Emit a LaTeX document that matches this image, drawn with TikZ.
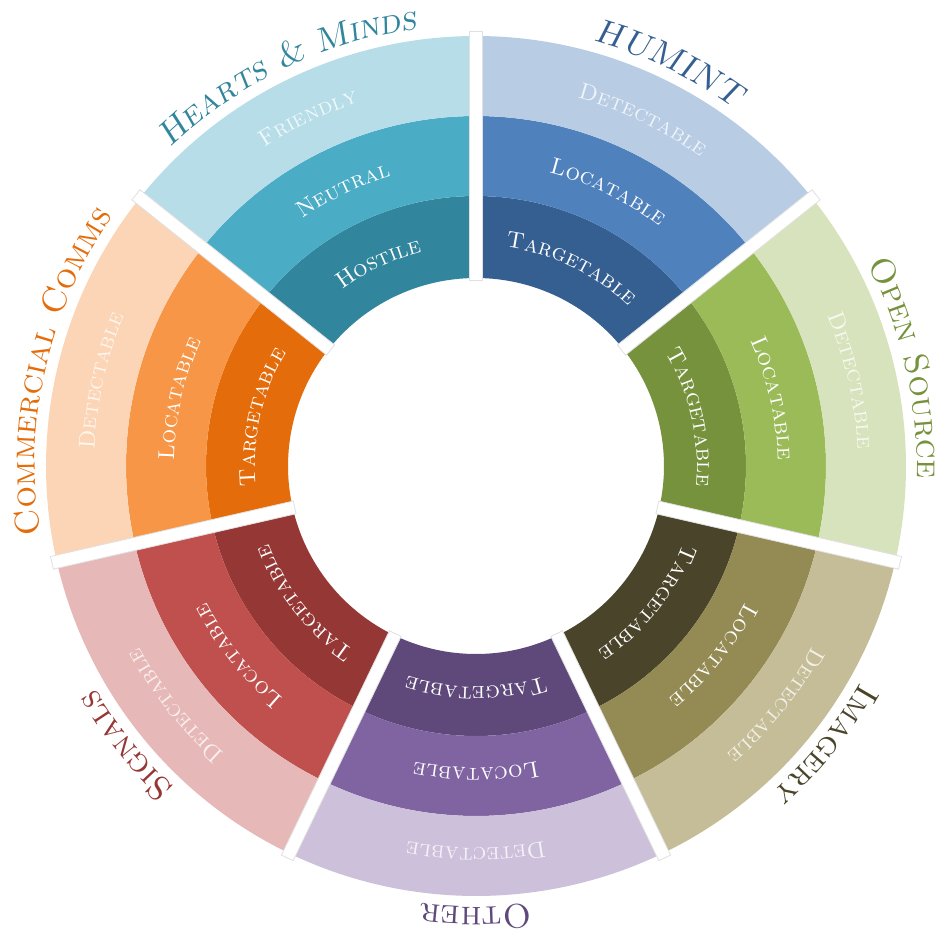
\documentclass[tikz,border=0pt]{standalone}
\usetikzlibrary{decorations.text}

% sector colours: dark (inner), mid, light (outer)
\definecolor{huD}{HTML}{365F91}
\definecolor{huM}{HTML}{4F81BD}
\definecolor{huL}{HTML}{B8CCE4}
\definecolor{osD}{HTML}{76923C}
\definecolor{osM}{HTML}{9BBB59}
\definecolor{osL}{HTML}{D7E3BC}
\definecolor{imD}{HTML}{4A452A}
\definecolor{imM}{HTML}{948A54}
\definecolor{imL}{HTML}{C4BD97}
\definecolor{otD}{HTML}{5F497A}
\definecolor{otM}{HTML}{8064A2}
\definecolor{otL}{HTML}{CCC0DA}
\definecolor{siD}{HTML}{953735}
\definecolor{siM}{HTML}{C0504D}
\definecolor{siL}{HTML}{E6B9B8}
\definecolor{ccD}{HTML}{E46C0A}
\definecolor{ccM}{HTML}{F79646}
\definecolor{ccL}{HTML}{FBD5B5}
\definecolor{hmD}{HTML}{31859C}
\definecolor{hmM}{HTML}{4BACC6}
\definecolor{hmL}{HTML}{B7DDE8}

\newcommand\ringfont{\fontsize{11.5}{13}\selectfont\scshape}
\newcommand\catfont{\fontsize{17}{20}\selectfont}

\begin{document}
\begin{tikzpicture}[
						x=0.5pt,
						y=0.5pt,
						gapbar/.style={fill=white, draw=black!12, line width=0.4pt}
					]
					\useasboundingbox (-476,-468) rectangle (459,466);
					% the seven sectors, three bands each
					\foreach \k/\dk/\md/\lg/\cat/\shp/\ta/\tb/\tc in {
						0/huD/huM/huL/HUMINT/scsl/Targetable/Locatable/Detectable,
						1/osD/osM/osL/Open Source/sc/Targetable/Locatable/Detectable,
						2/imD/imM/imL/Imagery/sc/Targetable/Locatable/Detectable,
						3/otD/otM/otL/Other/sc/Targetable/Locatable/Detectable,
						4/siD/siM/siL/Signals/sc/Targetable/Locatable/Detectable,
						5/ccD/ccM/ccL/Commercial Comms/sc/Targetable/Locatable/Detectable,
						6/hmD/hmM/hmL/Hearts {\&} Minds/scsl/Hostile/Neutral/Friendly
					} {
						\pgfmathsetmacro\a{90-\k*360/7}
						\pgfmathsetmacro\b{\a-360/7}
						\fill[\dk] (\a:188) arc[start angle=\a, end angle=\b, radius=188]
							-- (\b:270) arc[start angle=\b, end angle=\a, radius=270] -- cycle;
						\fill[\md] (\a:270) arc[start angle=\a, end angle=\b, radius=270]
							-- (\b:350) arc[start angle=\b, end angle=\a, radius=350] -- cycle;
						\fill[\lg] (\a:350) arc[start angle=\a, end angle=\b, radius=350]
							-- (\b:430) arc[start angle=\b, end angle=\a, radius=430] -- cycle;
						\path[decorate, decoration={text along path, text align=center, text color=white,
							text/.expanded={|\noexpand\ringfont|\ta}}]
							(\a:221) arc[start angle=\a, end angle=\b, radius=221];
						\path[decorate, decoration={text along path, text align=center, text color=white,
							text/.expanded={|\noexpand\ringfont|\tb}}]
							(\a:302) arc[start angle=\a, end angle=\b, radius=302];
						\path[decorate, decoration={text along path, text align=center, text color=white!78!\lg,
							text/.expanded={|\noexpand\ringfont|\tc}}]
							(\a:382) arc[start angle=\a, end angle=\b, radius=382];
						\path[decorate, decoration={text along path, text align=center, text color=\dk,
							text/.expanded={|\noexpand\catfont\noexpand\fontshape{\shp}\noexpand\selectfont|\cat}}]
							(\a:441) arc[start angle=\a, end angle=\b, radius=441];
					}
					% white gaps between the sectors
					\foreach \k in {0,...,6}
						\draw[gapbar, rotate={90-\k*360/7}] (186,-6.5) rectangle (435,6.5);
				\end{tikzpicture}
\end{document}
